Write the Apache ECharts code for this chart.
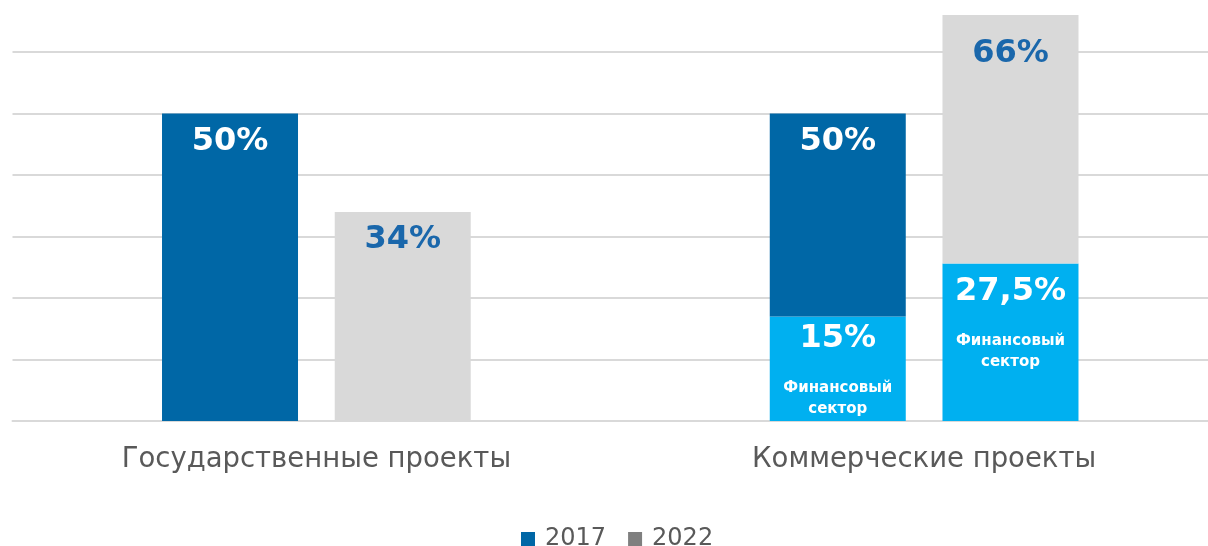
<!DOCTYPE html>
<html>
<head>
<meta charset="utf-8">
<script src="https://cdn.jsdelivr.net/npm/echarts@6/dist/echarts.min.js"></script>
<style>
  html, body { margin: 0; padding: 0; background: #fff; overflow: hidden; width: 1208px; height: 546px; }
  /* chart is a bit larger than the window: the 70% line and the right end of the grid fall outside */
  #chart { position: absolute; left: 0; top: -10px; width: 1228px; height: 556px; }
</style>
</head>
<body>
<div id="chart"></div>
<script>
const categories = ['Государственные проекты', 'Коммерческие проекты'];
const years = ['2017', '2022'];
// total share per year (label values)
const total2017 = [50, 50];
const total2022 = [34, 66];
// finance-sector part as drawn (bar heights) and its printed label
const finance2017 = [0, 17];
const finance2022 = [0, 25.6];
const financeLabels2017 = ['', '15%'];
const financeLabels2022 = ['', '27,5%'];

const DARK = '#0067a6';
const GREY = '#d9d9d9';
const CYAN = '#00b0f0';
const TEXT_BLUE = '#1a67ab';

const chart = echarts.init(document.getElementById('chart'));

const font = 'DejaVu Sans';

function restOf(total, fin) {
  return total.map((v, i) => v - fin[i]);
}

// distance of labels from the top of their bar, per category
const totalDist2017 = [12, 12];
const totalDist2022 = [12, 23];
const finDist2017 = [0, 2];
const finDist2022 = [0, 8];

function totalSeries(name, stack, total, fin, color, labelColor, dist) {
  return {
    name: name,
    type: 'bar',
    stack: stack,
    barWidth: 136,
    barGap: '27%',
    itemStyle: { color: color },
    data: restOf(total, fin).map((v, i) => ({
      value: v,
      label: {
        show: true,
        position: 'insideTop',
        distance: dist[i],
        formatter: total[i] + '%',
        color: labelColor,
        fontFamily: font,
        fontWeight: 'bold',
        fontSize: 32,
        lineHeight: 32
      }
    }))
  };
}

function financeSeries(name, stack, fin, labels, dist) {
  return {
    name: name,
    type: 'bar',
    stack: stack,
    barWidth: 136,
    barGap: '27%',
    itemStyle: { color: CYAN },
    data: fin.map((v, i) => ({
      value: v,
      label: {
        show: labels[i] !== '',
        position: 'insideTop',
        distance: dist[i],
        formatter: '{v|' + labels[i] + '}\n{g| }\n{s|Финансовый}\n{s|сектор}',
        rich: {
          v: { fontFamily: font, fontWeight: 'bold', fontSize: 32, lineHeight: 40, color: '#fff' },
          g: { fontSize: 1, lineHeight: 19 },
          s: { fontFamily: font, fontWeight: 'bold', fontSize: 15, lineHeight: 21, color: '#fff' }
        }
      }
    }))
  };
}

const option = {
  animation: false,
  backgroundColor: '#fff',
  grid: { left: 12.5, right: 0, top: 0.5, bottom: 125 },
  legend: {
    data: [
      { name: years[0], itemStyle: { color: DARK } },
      { name: years[1], itemStyle: { color: '#7f7f7f' } }
    ],
    left: 516,
    top: 532,
    icon: 'rect',
    itemWidth: 14,
    itemHeight: 14,
    itemGap: 22,
    textStyle: { fontFamily: font, fontSize: 24, color: '#595959', padding: [0, 0, 0, 5] }
  },
  xAxis: {
    type: 'category',
    data: categories,
    axisTick: { show: false },
    axisLine: { lineStyle: { color: '#d9d9d9', width: 2 } },
    axisLabel: { margin: 25, fontFamily: font, fontSize: 27.5, color: '#595959' }
  },
  yAxis: {
    type: 'value',
    min: 0,
    max: 70,
    interval: 10,
    axisLabel: { show: false },
    axisLine: { show: false },
    axisTick: { show: false },
    splitLine: { lineStyle: { color: '#d9d9d9', width: 2 } }
  },
  series: [
    financeSeries('Финансовый сектор 2017', 's17', finance2017, financeLabels2017, finDist2017),
    totalSeries(years[0], 's17', total2017, finance2017, DARK, '#fff', totalDist2017),
    financeSeries('Финансовый сектор 2022', 's22', finance2022, financeLabels2022, finDist2022),
    totalSeries(years[1], 's22', total2022, finance2022, GREY, TEXT_BLUE, totalDist2022)
  ]
};

chart.setOption(option);
</script>
</body>
</html>
